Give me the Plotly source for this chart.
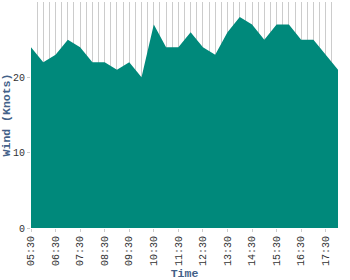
import plotly.graph_objects as go

times = ["05:30", "06:00", "06:30", "07:00", "07:30", "08:00", "08:30", "09:00",
         "09:30", "10:00", "10:30", "11:00", "11:30", "12:00", "12:30", "13:00",
         "13:30", "14:00", "14:30", "15:00", "15:30", "16:00", "16:30", "17:00",
         "17:30", "18:00"]
wind = [24, 22, 23, 25, 24, 22, 22, 21,
        22, 20, 27, 24, 24, 26, 24, 23,
        26, 28, 27, 25, 27, 27, 25, 25,
        23, 21]
y_ticks = [0, 10, 20]

day = "2024-01-01 "
x = [day + t + ":00" for t in times]

fill_color = "#00897B"
title_color = "#436188"
font_family = "Liberation Mono"

fig = go.Figure()
fig.add_trace(go.Scatter(
    x=x, y=wind, mode="lines", fill="tozeroy",
    line=dict(color=fill_color, width=0),
    fillcolor=fill_color, hoverinfo="skip",
))

fig.update_layout(
    width=350, height=280,
    margin=dict(l=31, r=12, t=2, b=52),
    paper_bgcolor="white", plot_bgcolor="white",
    showlegend=False,
    font=dict(family=font_family, size=10, color="#333333"),
    xaxis=dict(
        type="date", automargin=False,
        range=[x[0], x[-1]],
        tick0=x[0], dtick=3600000,
        tickformat="%H:%M", tickangle=-90,
        ticks="outside", ticklen=3, tickcolor="#cccccc",
        showgrid=True, gridcolor="#cccccc", gridwidth=1,
        minor=dict(dtick=900000, tick0=x[0], showgrid=True,
                   gridcolor="#cccccc", gridwidth=1, ticks=""),
        showline=False, zeroline=False,
        title=dict(text="<b>Time</b>", standoff=4,
                   font=dict(family=font_family, size=11.5, color=title_color)),
        tickfont=dict(family=font_family, size=10, color="#333333"),
    ),
    yaxis=dict(
        automargin=False,
        range=[0, 30], tickvals=y_ticks,
        ticks="outside", ticklen=3, tickcolor="#cccccc",
        showgrid=False, zeroline=False, showline=False,
        title=dict(text="<b>Wind (Knots)</b>", standoff=4,
                   font=dict(family=font_family, size=11.5, color=title_color)),
        tickfont=dict(family=font_family, size=10, color="#333333"),
    ),
)

fig.write_html("out.html")
